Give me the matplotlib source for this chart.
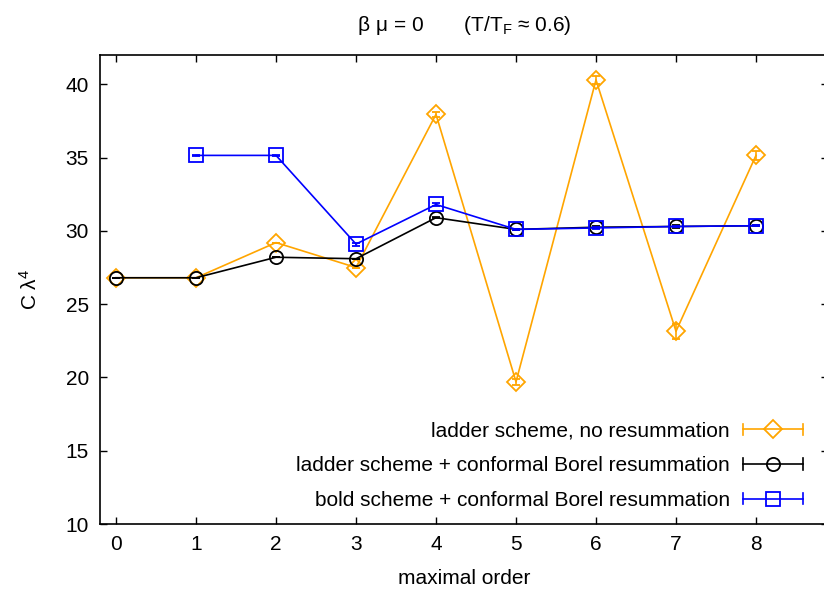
import matplotlib
matplotlib.use("Agg")
import matplotlib.pyplot as plt
from matplotlib.legend_handler import HandlerLine2D
from matplotlib.lines import Line2D

plt.rcParams['font.family'] = ['Liberation Sans', 'DejaVu Sans']

orders = [0, 1, 2, 3, 4, 5, 6, 7, 8]
ladder_plain = [26.8, 26.8, 29.2, 27.5, 37.95, 19.7, 40.3, 23.15, 35.15]
ladder_plain_err = [0.0, 0.0, 0.0, 0.0, 0.15, 0.2, 0.3, 0.5, 0.3]
ladder_borel = [26.8, 26.8, 28.2, 28.1, 30.9, 30.1, 30.25, 30.3, 30.35]
ladder_borel_err = [0.0, 0.0, 0.0, 0.0, 0.05, 0.05, 0.05, 0.1, 0.05]
bold_orders = [1, 2, 3, 4, 5, 6, 7, 8]
bold_borel = [35.15, 35.15, 29.1, 31.8, 30.1, 30.2, 30.3, 30.35]
bold_borel_err = [0.05, 0.05, 0.1, 0.1, 0.05, 0.05, 0.05, 0.05]

labels = ["ladder scheme, no resummation",
          "ladder scheme + conformal Borel resummation",
          "bold scheme + conformal Borel resummation"]

W, H = 824, 594
fig = plt.figure(figsize=(W / 100, H / 100), dpi=100)
ax = fig.add_axes([100 / W, (H - 524) / H, 728 / W, 469 / H])

fs = 15
ax.errorbar(orders, ladder_plain, yerr=ladder_plain_err, color='#ffa500', lw=1.2,
            marker='D', ms=9.5, mfc='none', mew=1.3, capsize=3, elinewidth=1.2, zorder=2)
ax.errorbar(orders, ladder_borel, yerr=ladder_borel_err, color='black', lw=1.2,
            marker='o', ms=9.5, mfc='none', mew=1.3, capsize=3, elinewidth=1.2, zorder=3)
ax.errorbar(bold_orders, bold_borel, yerr=bold_borel_err, color='#0000ff', lw=1.2,
            marker='s', ms=10, mfc='none', mew=1.3, capsize=3, elinewidth=1.2, zorder=4)

ax.set_xlim(-0.2, 8.9)
ax.set_ylim(10, 42)
ax.set_xticks(orders)
ax.set_yticks([10, 15, 20, 25, 30, 35, 40])
ax.tick_params(direction='in', length=5, width=1, labelsize=fs, top=True, right=True, pad=8)
for s in ax.spines.values():
    s.set_linewidth(1.2)

ax.set_xlabel("maximal order", fontsize=fs, labelpad=11)
ax.set_ylabel(r"C $\mathregular{\lambda^4}$", fontsize=fs, labelpad=18)
ax.set_title(r"$\mathregular{\beta\ \mu}$ = 0       (T/T$\mathregular{_F}$ ≈ 0.6)", fontsize=fs, pad=17)


class CapHandler(HandlerLine2D):
    def create_artists(self, legend, orig_handle, xdescent, ydescent, width, height, fontsize, trans):
        arts = super().create_artists(legend, orig_handle, xdescent, ydescent, width, height, fontsize, trans)
        c = orig_handle.get_color()
        y = height / 2 - ydescent
        x0 = -xdescent
        x1 = -xdescent + width
        h = 4
        for x in (x0, x1):
            ln = Line2D([x, x], [y - h, y + h], color=c, lw=1.2, transform=trans)
            arts.append(ln)
        return arts


handles = [
    Line2D([], [], color='#ffa500', lw=1.2, marker='D', ms=9.5, mfc='none', mew=1.3),
    Line2D([], [], color='black', lw=1.2, marker='o', ms=9.5, mfc='none', mew=1.3),
    Line2D([], [], color='#0000ff', lw=1.2, marker='s', ms=10, mfc='none', mew=1.3),
]
ax.legend(handles, labels, loc='lower right', bbox_to_anchor=(703 / 728, 0.03),
          frameon=False, fontsize=fs, markerfirst=False, handlelength=2.9,
          handletextpad=0.62, labelspacing=0.75, numpoints=1, borderpad=0,
          borderaxespad=0,
          handler_map={Line2D: CapHandler(numpoints=1)})

fig.savefig("out.png", dpi=100)
